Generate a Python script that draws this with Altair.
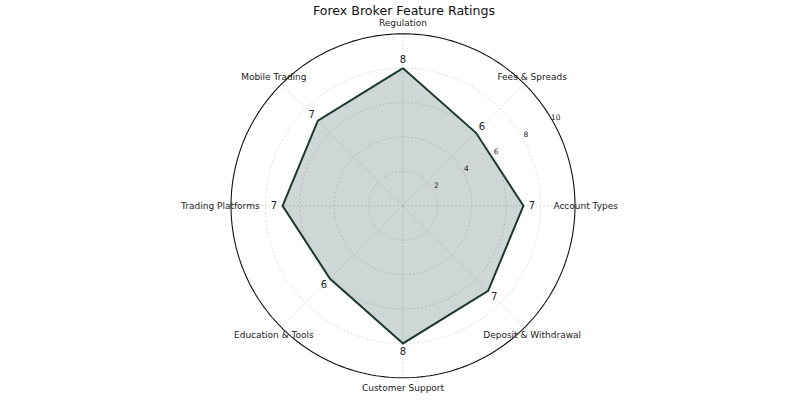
import numpy as np
import pandas as pd
import altair as alt

# ---- data ----
categories = ["Regulation", "Fees & Spreads", "Account Types", "Deposit & Withdrawal",
              "Customer Support", "Education & Tools", "Trading Platforms", "Mobile Trading"]
ratings = [8, 6, 7, 7, 8, 6, 7, 7]
ring_values = [2, 4, 6, 8, 10]
max_rating = 10
title_text = "Forex Broker Feature Ratings"

# ---- geometry (polar -> cartesian, clockwise from north) ----
n = len(categories)
angles = np.arange(n) * 2 * np.pi / n

def px(r, a):
    return r * np.sin(a)

def py(r, a):
    return r * np.cos(a)

# polygon (closed)
poly = pd.DataFrame({
    "x": [px(ratings[i % n], angles[i % n]) for i in range(n + 1)],
    "y": [py(ratings[i % n], angles[i % n]) for i in range(n + 1)],
    "o": list(range(n + 1)),
})

# rings
ring_rows = []
circ = np.linspace(0, 2 * np.pi, 241)
for rv in ring_values:
    for k, a in enumerate(circ):
        ring_rows.append({"ring": rv, "x": px(rv, a), "y": py(rv, a), "o": k})
rings = pd.DataFrame(ring_rows)
inner_rings = rings[rings.ring < max_rating]
outer_ring = rings[rings.ring == max_rating]

# spokes
spokes = pd.DataFrame({
    "x": [0.0] * n, "y": [0.0] * n,
    "x2": [px(max_rating, a) for a in angles],
    "y2": [py(max_rating, a) for a in angles],
})

# category labels
cat_df = pd.DataFrame({
    "label": categories,
    "x": [px(max_rating + 0.62, a) for a in angles],
    "y": [py(max_rating + 0.62, a) for a in angles],
})

# value labels
val_df = pd.DataFrame({
    "label": [str(v) for v in ratings],
    "x": [px(v + 0.5, a) for v, a in zip(ratings, angles)],
    "y": [py(v + 0.5, a) for v, a in zip(ratings, angles)],
})

# radial tick labels
tick_angle = np.deg2rad(60)
tick_df = pd.DataFrame({
    "label": [str(v) for v in ring_values],
    "x": [px(v + 0.25, tick_angle) for v in ring_values],
    "y": [py(v + 0.25, tick_angle) for v in ring_values],
})

# ---- scales ----
unit = 17.2
cx, cy = 403.0, 205.8
W, H = 800, 400
xs = alt.Scale(domain=[-cx / unit, (W - cx) / unit], nice=False, zero=False)
ys = alt.Scale(domain=[-(H - cy) / unit, cy / unit], nice=False, zero=False)
X = lambda f="x": alt.X(f"{f}:Q", scale=xs, axis=None)
Y = lambda f="y": alt.Y(f"{f}:Q", scale=ys, axis=None)

font = "DejaVu Sans"

grid = alt.Chart(inner_rings).mark_line(
    color="#d2d2d2", strokeWidth=0.8, strokeDash=[2, 2]
).encode(x=X(), y=Y(), detail="ring:N", order="o:Q")

spoke = alt.Chart(spokes).mark_rule(
    color="#d2d2d2", strokeWidth=0.8, strokeDash=[2, 2]
).encode(x=X(), y=Y(), x2="x2:Q", y2="y2:Q")

fill = alt.Chart(poly).mark_line(
    fill="#2F4F4F", fillOpacity=0.23, strokeWidth=0
).encode(x=X(), y=Y(), order="o:Q")

edge = alt.Chart(poly).mark_line(
    color="#1b3a2d", strokeWidth=2, strokeJoin="miter"
).encode(x=X(), y=Y(), order="o:Q")

outer = alt.Chart(outer_ring).mark_line(
    color="#111111", strokeWidth=1.1
).encode(x=X(), y=Y(), order="o:Q")

cat_text = alt.Chart(cat_df).mark_text(
    font=font, fontSize=9, color="#222222", align="center", baseline="middle"
).encode(x=X(), y=Y(), text="label:N")

val_text = alt.Chart(val_df).mark_text(
    font=font, fontSize=10, color="#222222", align="center", baseline="middle"
).encode(x=X(), y=Y(), text="label:N")

tick_text = alt.Chart(tick_df).mark_text(
    font=font, fontSize=7.5, color="#222222", align="center", baseline="middle"
).encode(x=X(), y=Y(), text="label:N")

chart = alt.layer(grid, spoke, fill, edge, outer, cat_text, val_text, tick_text).properties(
    width=W, height=H, padding=0, autosize=alt.AutoSizeParams(type="none"),
    title=alt.TitleParams(title_text, font=font, fontSize=12.6, fontWeight="normal",
                          color="#111111", anchor="middle", baseline="top", offset=0,
                          dx=4, dy=18),
).configure_view(stroke=None)

chart.save("out.html", embed_options={"renderer": "svg", "actions": False})
